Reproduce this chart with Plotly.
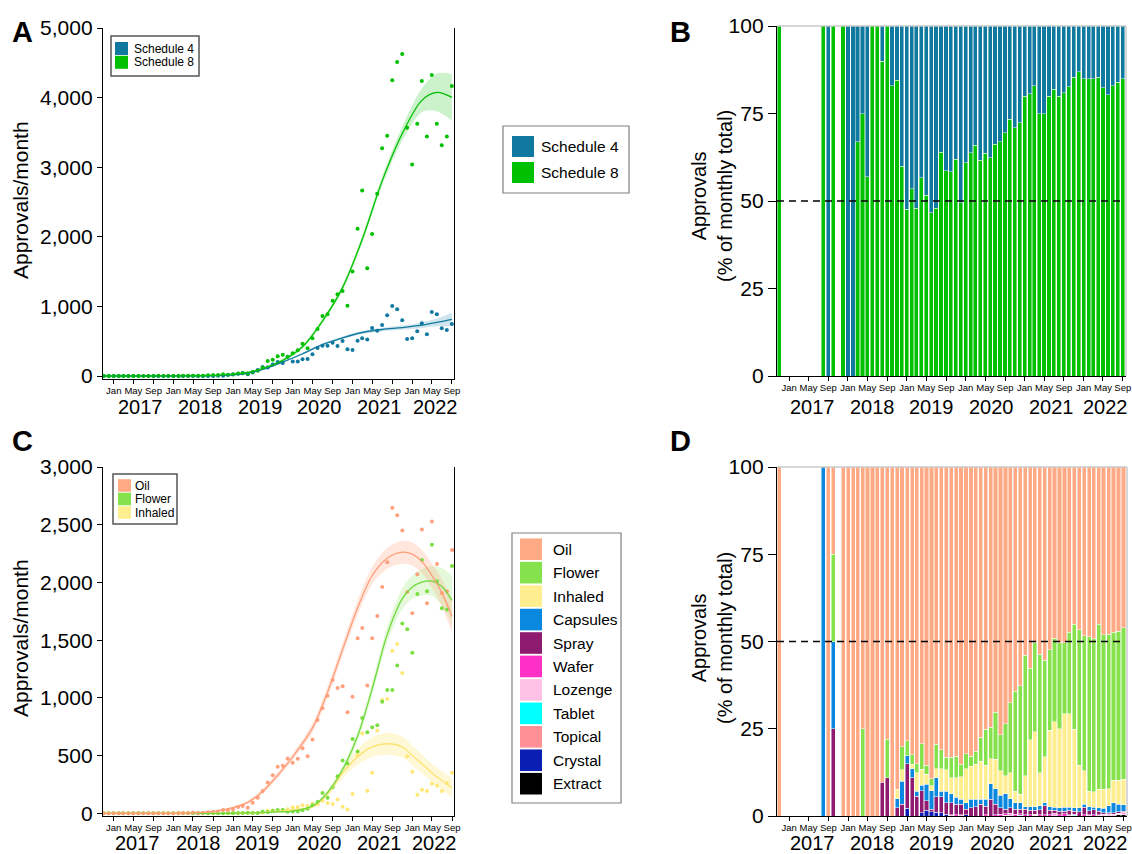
import pandas as pd
import plotly.graph_objects as go

W, H = 1132, 854
FONT = "Liberation Sans, Arial, sans-serif"

# ---------------- categories (months) ----------------
MONTHS = pd.date_range("2016-11-01", "2022-09-01", freq="MS").strftime("%Y-%m-%d").tolist()
YEARS = ["2017", "2018", "2019", "2020", "2021", "2022"]

# ---------------- Panel A: approvals / month by schedule ----------------
#            Nov16 Dec16 | 2017 (Jan..Dec) | 2018 | 2019 | 2020 | 2021 | 2022 (Jan..Sep)
S8_COUNT = ([1, 0] +
            [0, 0, 0, 0, 0, 0, 0, 1, 0, 4, 0, 1] +
            [0, 0, 2, 3, 4, 4, 5, 10, 15, 14, 26, 19] +
            [21, 36, 38, 35, 56, 75, 120, 216, 235, 283, 307, 278] +
            [326, 369, 465, 398, 542, 676, 863, 887, 1083, 1174, 1222, 1011] +
            [1500, 2114, 2665, 1548, 2042, 2618, 3274, 3452, 4248, 4511, 4626, 3567] +
            [3039, 3624, 4238, 3442, 4324, 3624, 3317, 3442, 4166])
S4_COUNT = ([0, 0] +
            [0, 0, 0, 0, 0, 0, 0, 0, 1, 0, 0, 0] +
            [1, 1, 1, 1, 3, 0, 0, 1, 0, 3, 5, 13] +
            [24, 31, 42, 27, 52, 85, 130, 122, 165, 202, 187, 278] +
            [208, 210, 240, 245, 312, 403, 436, 436, 479, 431, 503, 384] +
            [374, 508, 542, 523, 690, 652, 733, 872, 1007, 959, 800, 532] +
            [542, 642, 757, 599, 920, 887, 685, 661, 748])

A_FIT_MONTHS = ["2016-11", "2017-07", "2018-03", "2018-07", "2018-11", "2019-03", "2019-07",
                "2019-11", "2020-03", "2020-07", "2020-11", "2021-03", "2021-07", "2021-11",
                "2022-03", "2022-06", "2022-09"]
S8_FIT = [0, 0, 2, 6, 15, 40, 105, 225, 420, 790, 1270, 1960, 2800, 3480, 3960, 4075, 4003]
S8_FIT_HI = [0, 0, 4, 10, 23, 52, 123, 250, 450, 825, 1315, 2015, 2870, 3580, 4130, 4345, 4338]
S8_FIT_LO = [0, 0, 0, 2, 7, 28, 87, 200, 390, 755, 1225, 1905, 2730, 3380, 3790, 3805, 3668]
S4_FIT = [0, 0, 1, 3, 8, 30, 95, 200, 320, 451, 548, 625, 668, 695, 730, 770, 815]
S4_FIT_HI = [0, 0, 2, 5, 12, 36, 105, 212, 335, 469, 568, 647, 693, 725, 770, 825, 910]
S4_FIT_LO = [0, 0, 0, 1, 4, 24, 85, 188, 305, 433, 528, 603, 643, 665, 690, 715, 720]

# ---------------- Panel B: % of monthly total by schedule ----------------
S8_PCT = ([100, 0] +
          [0, 0, 0, 0, 0, 0, 0, 100, 0, 100, 0, 100] +
          [0, 0, 67, 75, 57, 100, 100, 90, 100, 83, 84.5, 60] +
          [47.6, 53.5, 48, 56.7, 51.7, 46.7, 48, 64, 58.7, 58.4, 62, 49.5] +
          [61, 63.8, 66, 61.7, 63.6, 62.3, 66.2, 66.9, 69.5, 73.3, 71, 72.4] +
          [80, 80.7, 83, 75, 75, 80, 81.9, 80, 81, 82.6, 85.3, 87] +
          [85, 85, 85, 85.4, 82.4, 80.4, 82.9, 84, 85])
S4_PCT = ([0, 0] +
          [0, 0, 0, 0, 0, 0, 0, 0, 100, 0, 0, 0] +
          [100, 100, 33, 25, 43, 0, 0, 10, 0, 17, 15.5, 40] +
          [52.4, 46.5, 52, 43.3, 48.3, 53.3, 52, 36, 41.3, 41.6, 38, 50.5] +
          [39, 36.2, 34, 38.3, 36.4, 37.7, 33.8, 33.1, 30.5, 26.7, 29, 27.6] +
          [20, 19.3, 17, 25, 25, 20, 18.1, 20, 19, 17.4, 14.7, 13] +
          [15, 15, 15, 14.6, 17.6, 19.6, 17.1, 16, 15])

# ---------------- Panel C: approvals / month by product ----------------
OIL_COUNT = ([1, 0] +
             [0, 0, 0, 0, 0, 0, 0, 0, 1, 1, 0, 1] +
             [1, 1, 3, 3, 7, 4, 5, 10, 12, 17, 29, 26] +
             [35, 55, 63, 49, 92, 135, 193, 268, 331, 403, 412, 475] +
             [438, 472, 564, 495, 639, 809, 910, 1019, 1154, 1085, 1100, 875] +
             [1011, 1517, 1606, 1108, 1517, 1710, 1961, 2174, 2646, 2582, 2450, 1917] +
             [1733, 2070, 2459, 1820, 2528, 2159, 1906, 1923, 2280])
FLOWER_COUNT = ([0, 0] +
                [0, 0, 0, 0, 0, 0, 0, 0, 0, 1, 0, 0] +
                [0, 0, 0, 1, 0, 0, 0, 0, 2, 0, 0, 2] +
                [2, 2, 2, 5, 3, 3, 17, 12, 20, 29, 29, 14] +
                [17, 17, 26, 40, 70, 98, 176, 135, 225, 322, 458, 432] +
                [645, 535, 826, 702, 746, 763, 967, 1068, 1068, 1281, 1644, 1595] +
                [1390, 1900, 2194, 1923, 2326, 2010, 1776, 1765, 2142])
INHALED_COUNT = ([0, 0] +
                 [0, 0, 0, 0, 0, 0, 0, 0, 0, 0, 0, 0] +
                 [0, 0, 0, 0, 0, 0, 0, 0, 0, 0, 1, 1] +
                 [0, 1, 4, 3, 3, 2, 6, 22, 25, 22, 28, 36] +
                 [52, 55, 70, 64, 83, 78, 109, 89, 81, 119, 57, 33] +
                 [167, 503, 691, 195, 351, 717, 981, 990, 1408, 1466, 1216, 495] +
                 [360, 160, 204, 193, 256, 239, 193, 262, 351])

C_FIT_MONTHS = ["2016-11", "2017-11", "2018-05", "2018-09", "2019-01", "2019-04", "2019-07",
                "2019-10", "2020-01", "2020-05", "2020-08", "2020-11", "2021-02", "2021-05",
                "2021-08", "2021-11", "2022-01", "2022-03", "2022-05", "2022-07", "2022-09"]
OIL_FIT = [0, 0, 3, 17, 50, 95, 190, 330, 490, 740, 1050, 1420, 1780, 2060, 2210, 2262, 2245, 2180, 2060, 1910, 1704]
OIL_FIT_HI = [0, 0, 5, 22, 60, 110, 210, 355, 520, 780, 1100, 1475, 1845, 2135, 2300, 2362, 2345, 2280, 2165, 2030, 1844]
OIL_FIT_LO = [0, 0, 1, 12, 40, 80, 170, 305, 460, 700, 1000, 1365, 1715, 1985, 2120, 2162, 2145, 2080, 1955, 1790, 1564]
FLOWER_FIT = [0, 0, 0, 0, 1, 3, 6, 12, 20, 63, 180, 380, 670, 1080, 1550, 1860, 1960, 2003, 2012, 1965, 1845]
FLOWER_FIT_HI = [0, 0, 0, 0, 3, 7, 12, 20, 30, 75, 200, 410, 715, 1135, 1620, 1950, 2060, 2118, 2142, 2125, 2060]
FLOWER_FIT_LO = [0, 0, 0, 0, 0, 0, 0, 4, 10, 51, 160, 350, 625, 1025, 1480, 1770, 1860, 1888, 1882, 1805, 1630]
INHALED_FIT = [0, 0, 0, 0, 1, 3, 8, 18, 30, 55, 170, 350, 490, 575, 603, 575, 500, 430, 350, 285, 222]
INHALED_FIT_HI = [0, 0, 0, 0, 3, 6, 13, 26, 40, 67, 195, 395, 560, 660, 698, 665, 585, 510, 430, 365, 307]
INHALED_FIT_LO = [0, 0, 0, 0, 0, 0, 3, 10, 20, 43, 145, 305, 420, 490, 508, 485, 415, 350, 270, 205, 137]

# ---------------- Panel D: % of monthly total by product ----------------
D_OIL = ([100, 0] +
         [0, 0, 0, 0, 0, 0, 0, 0, 100, 25, 0, 100] +
         [100, 100, 100, 75, 100, 100, 100, 90.3, 78, 100, 92.4, 80.2] +
         [78.4, 82.4, 85, 79.3, 85.4, 89.3, 79.5, 81, 83.1, 83.1, 82.9, 85.2] +
         [82.2, 82.9, 81.4, 77.4, 75.2, 74.5, 70.3, 76.7, 73.5, 67.6, 64.3, 62.7] +
         [54, 57.7, 50.3, 53.6, 55.4, 52.4, 49, 50.3, 50.3, 47.4, 45, 46.7] +
         [48.4, 48.6, 49.2, 45, 48.1, 47.9, 47.4, 47, 46.1])
D_FLOWER = ([0, 0] +
            [0, 0, 0, 0, 0, 0, 0, 0, 0, 25, 0, 0] +
            [0, 0, 0, 25, 0, 0, 0, 0, 11, 0, 0, 6.5] +
            [4.4, 2.8, 2.6, 7.3, 2.6, 2.0, 6.9, 5.4, 3.6, 5.9, 6.1, 3.6] +
            [4.2, 2.8, 3.8, 6.9, 10.3, 9.1, 13.5, 10.4, 14.9, 20.0, 28.6, 31.1] +
            [34.4, 20.4, 25.6, 34.0, 27.6, 23.0, 24.0, 24.7, 20.4, 23.3, 30.2, 38.8] +
            [38.7, 44.3, 43.9, 47.4, 44.3, 44.3, 42.3, 42.7, 43.3])
D_INHALED = ([0, 0] +
             [0, 0, 0, 0, 0, 0, 0, 0, 0, 0, 0, 0] +
             [0, 0, 0, 0, 0, 0, 0, 0, 0, 0, 2.6, 3.4] +
             [0, 1.3, 5.3, 4.6, 2.9, 1.5, 2.6, 6.5, 6.2, 4.6, 5.6, 6.4] +
             [9.8, 9.5, 10.0, 10.9, 9.7, 7.2, 8.4, 7.0, 5.2, 7.4, 3.3, 2.4] +
             [8.9, 19.2, 21.4, 9.4, 13.2, 21.9, 24.5, 22.6, 26.8, 26.8, 22.4, 12.1] +
             [9.6, 4.4, 4.4, 5.2, 5.4, 4.8, 6.5, 7.0, 7.4])
D_CAPSULES = ([0, 0] +
              [0, 0, 0, 0, 0, 0, 0, 100, 0, 25, 0, 0] +
              [0, 0, 0, 0, 0, 0, 0, 0, 0, 0, 2.6, 6.6] +
              [2.2, 2.5, 1.4, 1.6, 4.8, 5.2, 5.5, 1.6, 3.3, 2.6, 2.1, 1.5] +
              [1.9, 2.4, 2.1, 1.5, 2.0, 4.4, 4.5, 3.5, 4.5, 2.6, 1.9, 1.9] +
              [0.8, 1.1, 1.1, 1.2, 0.9, 1.1, 0.9, 1.1, 1.1, 0.9, 1.0, 1.2] +
              [0.8, 1.2, 0.7, 1.0, 1.2, 2.0, 2.8, 2.1, 1.8])
D_SPRAY = ([0, 0] +
           [0, 0, 0, 0, 0, 0, 0, 0, 0, 25, 0, 0] +
           [0, 0, 0, 0, 0, 0, 0, 9.7, 11, 0, 2.4, 3.3] +
           [12.8, 11, 5.7, 6.2, 2.6, 0.8, 4.4, 4.5, 3.3, 3.4, 3.0, 3.0] +
           [1.6, 2.4, 2.7, 3.3, 2.5, 4.8, 2.9, 1.9, 1.3, 1.6, 1.4, 1.2] +
           [1.5, 1.2, 1.1, 1.4, 2.5, 1.2, 0.8, 1.0, 0.8, 1.3, 0.9, 1.2] +
           [2.2, 1.2, 1.5, 1.0, 0.5, 0.4, 0.5, 0.4, 0.3])
D_WAFER = ([0, 0] +
           [0, 0, 0, 0, 0, 0, 0, 0, 0, 0, 0, 0] +
           [0, 0, 0, 0, 0, 0, 0, 0, 0, 0, 0, 0] +
           [0, 0, 0, 0, 0, 0, 0, 0, 0, 0, 0.3, 0] +
           [0, 0, 0, 0, 0.3, 0, 0.4, 0.5, 0.4, 0.4, 0.5, 0.5] +
           [0.4, 0.4, 0, 0.4, 0.4, 0.4, 0.5, 0.3, 0.6, 0, 0.3, 0] +
           [0.3, 0, 0.3, 0, 0, 0, 0, 0, 0.4])
D_LOZENGE = ([0, 0] +
             [0, 0, 0, 0, 0, 0, 0, 0, 0, 0, 0, 0] +
             [0, 0, 0, 0, 0, 0, 0, 0, 0, 0, 0, 0] +
             [0, 0, 0, 0, 0, 0, 0, 0, 0, 0.4, 0, 0.3] +
             [0, 0, 0, 0, 0, 0, 0, 0, 0, 0.4, 0, 0] +
             [0, 0, 0.3, 0, 0, 0, 0.3, 0, 0, 0.3, 0, 0] +
             [0, 0.3, 0, 0.4, 0.5, 0.6, 0.5, 0.5, 0.4])
D_TABLET = ([0, 0] +
            [0, 0, 0, 0, 0, 0, 0, 0, 0, 0, 0, 0] +
            [0, 0, 0, 0, 0, 0, 0, 0, 0, 0, 0, 0] +
            [0, 0, 0, 0, 0, 0, 0, 0, 0, 0, 0, 0] +
            [0, 0, 0, 0, 0, 0, 0, 0, 0, 0, 0, 0.2] +
            [0, 0, 0, 0, 0, 0, 0, 0, 0, 0, 0.2, 0] +
            [0, 0, 0, 0, 0, 0, 0, 0, 0])
D_TOPICAL = ([0, 0] +
             [0, 0, 0, 0, 0, 0, 0, 0, 0, 0, 0, 0] +
             [0, 0, 0, 0, 0, 0, 0, 0, 0, 0, 0, 0] +
             [0, 0, 0, 0, 0, 0, 0, 0, 0, 0, 0, 0] +
             [0, 0, 0, 0, 0, 0, 0, 0, 0.2, 0, 0, 0] +
             [0, 0, 0.2, 0, 0, 0, 0, 0, 0, 0, 0, 0] +
             [0, 0, 0, 0, 0, 0, 0, 0, 0])
D_CRYSTAL = ([0, 0] +
             [0, 0, 0, 0, 0, 0, 0, 0, 0, 0, 0, 0] +
             [0, 0, 0, 0, 0, 0, 0, 0, 0, 0, 0, 0] +
             [2.2, 0, 0, 1.0, 1.7, 1.2, 1.1, 1.0, 0.5, 0, 0, 0] +
             [0.3, 0, 0, 0, 0, 0, 0, 0, 0, 0, 0, 0] +
             [0, 0, 0, 0, 0, 0, 0, 0, 0, 0, 0, 0] +
             [0, 0, 0, 0, 0, 0, 0, 0, 0])
D_EXTRACT = ([0, 0] +
             [0, 0, 0, 0, 0, 0, 0, 0, 0, 0, 0, 0] +
             [0, 0, 0, 0, 0, 0, 0, 0, 0, 0, 0, 0] +
             [0, 0, 0, 0, 0, 0, 0, 0, 0, 0, 0, 0] +
             [0, 0, 0, 0, 0, 0, 0, 0, 0, 0, 0, 0] +
             [0, 0, 0, 0, 0, 0, 0, 0, 0, 0, 0, 0] +
             [0, 0, 0, 0, 0, 0, 0, 0.3, 0.3])

PRODUCTS = ["Oil", "Flower", "Inhaled", "Capsules", "Spray", "Wafer", "Lozenge",
            "Tablet", "Topical", "Crystal", "Extract"]
PRODUCT_PCT = {"Oil": D_OIL, "Flower": D_FLOWER, "Inhaled": D_INHALED, "Capsules": D_CAPSULES,
               "Spray": D_SPRAY, "Wafer": D_WAFER, "Lozenge": D_LOZENGE, "Tablet": D_TABLET,
               "Topical": D_TOPICAL, "Crystal": D_CRYSTAL, "Extract": D_EXTRACT}

# ---------------- styles ----------------
C_S4, C_S8 = "#10799F", "#00C000"
PRODUCT_COLORS = {"Oil": "#FFAA85", "Flower": "#86E24C", "Inhaled": "#FFEE90",
                  "Capsules": "#0A88E0", "Spray": "#8E1B70", "Wafer": "#FF30C6",
                  "Lozenge": "#FFC2E6", "Tablet": "#00FFFF", "Topical": "#FF9096",
                  "Crystal": "#0A1EB4", "Extract": "#000000"}
C_OIL_LINE, C_FLOWER_LINE, C_INH_LINE = "#FF9C76", "#6FD93B", "#FFE36E"

for name, arr in [("S8_COUNT", S8_COUNT), ("S4_COUNT", S4_COUNT), ("S8_PCT", S8_PCT),
                  ("S4_PCT", S4_PCT), ("OIL", OIL_COUNT), ("FLOWER", FLOWER_COUNT),
                  ("INH", INHALED_COUNT)] + list(PRODUCT_PCT.items()):
    if len(arr) != len(MONTHS):
        raise ValueError(f"{name} has {len(arr)} values, expected {len(MONTHS)}")


def nz(vals):
    return [v if v else None for v in vals]


def PX(x):
    return x / W


def PY(y):
    return 1 - y / H


fig = go.Figure()


def add_fit(xs, lo, hi, xa, ya, fillcolor):
    fig.add_trace(go.Scatter(x=xs, y=lo, mode="lines", line=dict(width=0, shape="spline", smoothing=0.9),
                             xaxis=xa, yaxis=ya, showlegend=False, hoverinfo="skip"))
    fig.add_trace(go.Scatter(x=xs, y=hi, mode="lines", line=dict(width=0, shape="spline", smoothing=0.9),
                             fill="tonexty", fillcolor=fillcolor,
                             xaxis=xa, yaxis=ya, showlegend=False, hoverinfo="skip"))


def add_line(xs, mid, xa, ya, color):
    fig.add_trace(go.Scatter(x=xs, y=mid, mode="lines",
                             line=dict(width=1.3, color=color, shape="spline", smoothing=0.9),
                             xaxis=xa, yaxis=ya, showlegend=False, hoverinfo="skip"))


def add_points(vals, xa, ya, color, name):
    fig.add_trace(go.Scatter(x=MONTHS, y=vals, mode="markers", name=name,
                             marker=dict(size=4, color=color),
                             xaxis=xa, yaxis=ya, showlegend=False))


# Panel A
add_fit(A_FIT_MONTHS, S4_FIT_LO, S4_FIT_HI, "x", "y", "rgba(16,121,159,0.20)")
add_fit(A_FIT_MONTHS, S8_FIT_LO, S8_FIT_HI, "x", "y", "rgba(0,192,0,0.20)")
add_points(S4_COUNT, "x", "y", C_S4, "Schedule 4")
add_points(S8_COUNT, "x", "y", C_S8, "Schedule 8")
add_line(A_FIT_MONTHS, S4_FIT, "x", "y", C_S4)
add_line(A_FIT_MONTHS, S8_FIT, "x", "y", C_S8)

# Panel B
for name, vals, col in [("Schedule 8", S8_PCT, C_S8), ("Schedule 4", S4_PCT, C_S4)]:
    fig.add_trace(go.Bar(x=MONTHS, y=nz(vals), name=name, marker=dict(color=col,
                         line=dict(color="rgba(255,255,255,0.75)", width=0.6)),
                         xaxis="x2", yaxis="y2", showlegend=False))

# Panel C
add_fit(C_FIT_MONTHS, INHALED_FIT_LO, INHALED_FIT_HI, "x3", "y3", "rgba(255,232,120,0.30)")
add_fit(C_FIT_MONTHS, FLOWER_FIT_LO, FLOWER_FIT_HI, "x3", "y3", "rgba(122,223,63,0.20)")
add_fit(C_FIT_MONTHS, OIL_FIT_LO, OIL_FIT_HI, "x3", "y3", "rgba(255,160,125,0.25)")
add_points(INHALED_COUNT, "x3", "y3", "#FFE878", "Inhaled")
add_points(FLOWER_COUNT, "x3", "y3", "#7ADF40", "Flower")
add_points(OIL_COUNT, "x3", "y3", "#FFA07E", "Oil")
add_line(C_FIT_MONTHS, INHALED_FIT, "x3", "y3", C_INH_LINE)
add_line(C_FIT_MONTHS, FLOWER_FIT, "x3", "y3", C_FLOWER_LINE)
add_line(C_FIT_MONTHS, OIL_FIT, "x3", "y3", C_OIL_LINE)

# Panel D (stack bottom -> top is reverse legend order)
for name in reversed(PRODUCTS):
    fig.add_trace(go.Bar(x=MONTHS, y=nz(PRODUCT_PCT[name]), name=name,
                         marker=dict(color=PRODUCT_COLORS[name],
                                     line=dict(color="rgba(255,255,255,0.8)", width=0.6)),
                         xaxis="x4", yaxis="y4", showlegend=False))


# ---------------- axes ----------------
def xaxis(dom, rng, anchor):
    return dict(type="date", domain=dom, range=rng, anchor=anchor, automargin=False,
                tick0="2017-01-01", dtick="M4", tickformat="%b",
                ticks="outside", ticklen=4, tickwidth=1, tickcolor="black",
                ticklabelstandoff=-2,
                tickfont=dict(size=9.5, color="black", family=FONT),
                showline=True, linecolor="black", linewidth=1.3,
                showgrid=False, zeroline=False)


def yaxis(dom, rng, anchor, tickvals, fmt, mirror, ticklen):
    return dict(domain=dom, range=rng, anchor=anchor, tickvals=tickvals, tickformat=fmt,
                automargin=False,
                ticks="outside", ticklen=ticklen, tickwidth=1.3, tickcolor="black",
                tickfont=dict(size=21, color="black", family=FONT),
                showline=True, linecolor="black", linewidth=1.3, mirror=mirror,
                showgrid=False, zeroline=False)


fig.update_layout(
    width=W, height=H, margin=dict(l=0, r=0, t=0, b=0, autoexpand=False),
    paper_bgcolor="white", plot_bgcolor="white",
    font=dict(family=FONT, color="black"),
    barmode="stack", bargap=0.08, showlegend=False,
    xaxis=xaxis([PX(103), PX(454)], ["2016-10-27", "2022-09-14"], "y"),
    yaxis=yaxis([PY(379), PY(28)], [-43, 5000], "x", [0, 1000, 2000, 3000, 4000, 5000], ",d", True, 5),
    xaxis2=xaxis([PX(777), PX(1126)], ["2016-10-18", "2022-09-21"], "y2"),
    yaxis2=yaxis([PY(376), PY(26)], [0, 100], "x2", [0, 25, 50, 75, 100], "d", False, 8),
    xaxis3=xaxis([PX(103), PX(454)], ["2016-10-28", "2022-09-13"], "y3"),
    yaxis3=yaxis([PY(816), PY(467)], [-23, 3000], "x3", [0, 500, 1000, 1500, 2000, 2500, 3000], ",d", True, 5),
    xaxis4=xaxis([PX(777), PX(1127)], ["2016-10-18", "2022-09-23"], "y4"),
    yaxis4=yaxis([PY(816), PY(467)], [0, 100], "x4", [0, 25, 50, 75, 100], "d", False, 8),
)

shapes = []
annotations = []

# dashed 50 % reference lines, light frame top/right of B and D
for xa, ya in [("x2", "y2"), ("x4", "y4")]:
    shapes.append(dict(type="line", xref=xa, yref=ya, x0="2016-10-18", x1="2022-08-27", y0=50, y1=50,
                       line=dict(color="black", width=1.3, dash="7px,5px")))
    shapes.append(dict(type="line", xref=f"{xa} domain", yref=f"{ya} domain", x0=0, x1=1, y0=1, y1=1,
                       line=dict(color="#B0B0B0", width=1)))
    shapes.append(dict(type="line", xref=f"{xa} domain", yref=f"{ya} domain", x0=1, x1=1, y0=0, y1=1,
                       line=dict(color="#B0B0B0", width=1)))

# year labels under the month ticks
YEAR_POS_A = ["2017-06-12", "2018-06-15", "2019-06-18", "2020-06-15", "2021-06-18", "2022-05-24"]
YEAR_POS_B = ["2017-05-25", "2018-06-01", "2019-06-01", "2020-06-10", "2021-06-15", "2022-05-15"]
for xa, pos, ypx in [("x", YEAR_POS_A, 407), ("x2", YEAR_POS_B, 407),
                     ("x3", YEAR_POS_B, 843), ("x4", YEAR_POS_B, 843)]:
    for yr, xp in zip(YEARS, pos):
        annotations.append(dict(text=yr, x=xp, xref=xa, y=PY(ypx), yref="paper", showarrow=False,
                                xanchor="center", yanchor="middle", borderpad=0,
                                font=dict(size=20, color="black")))

# panel letters
for lab, (xp, yp) in {"A": (22, 32), "B": (680, 32), "C": (22, 441), "D": (680, 441)}.items():
    annotations.append(dict(text=f"<b>{lab}</b>", x=PX(xp), y=PY(yp), xref="paper", yref="paper",
                            showarrow=False, xanchor="center", yanchor="middle",
                            font=dict(size=29, color="black")))

# y-axis titles
for txt, xp, yp, fs in [("Approvals/month", 20, 200, 21), ("Approvals/month", 20, 638, 21),
                        ("Approvals<br>(% of monthly total)", 712, 196, 20),
                        ("Approvals<br>(% of monthly total)", 712, 638, 20)]:
    annotations.append(dict(text=txt, x=PX(xp), y=PY(yp), xref="paper", yref="paper", showarrow=False,
                            textangle=-90, xanchor="center", yanchor="middle",
                            font=dict(size=fs, color="black")))


def legend_box(box, items, sw_x0, sw_x1, sw_half, text_x, fs, border, bw):
    x0, y0, x1, y1 = box
    shapes.append(dict(type="rect", xref="paper", yref="paper", x0=PX(x0), x1=PX(x1), y0=PY(y1), y1=PY(y0),
                       fillcolor="white", line=dict(color=border, width=bw), layer="above"))
    for label, color, yc in items:
        shapes.append(dict(type="rect", xref="paper", yref="paper", x0=PX(sw_x0), x1=PX(sw_x1),
                           y0=PY(yc + sw_half), y1=PY(yc - sw_half), fillcolor=color,
                           line=dict(width=0), layer="above"))
        annotations.append(dict(text=label, x=PX(text_x), y=PY(yc), xref="paper", yref="paper",
                                showarrow=False, xanchor="left", yanchor="middle",
                                font=dict(size=fs, color="black")))


# inset legends
legend_box((111, 36, 199, 76), [("Schedule 4", C_S4, 48.5), ("Schedule 8", C_S8, 62.3)],
           115, 128, 6.5, 132, 12, "#555555", 1.5)
legend_box((113, 474, 177, 524), [("Oil", PRODUCT_COLORS["Oil"], 485.5),
                                  ("Flower", PRODUCT_COLORS["Flower"], 499),
                                  ("Inhaled", PRODUCT_COLORS["Inhaled"], 512.5)],
           118, 131, 6.3, 133, 12, "#555555", 1.5)
# central legends
legend_box((503, 126, 629, 193), [("Schedule 4", C_S4, 146.5), ("Schedule 8", C_S8, 172.5)],
           512, 534, 10.5, 539, 15.5, "#808080", 1.2)
legend_box((512, 533, 621, 803),
           [(p, PRODUCT_COLORS[p], 549.2 + 23.45 * i) for i, p in enumerate(PRODUCTS)],
           520, 542, 10.8, 551, 15.5, "#808080", 1.2)

fig.update_layout(shapes=shapes, annotations=annotations)
fig.write_html("out.html")
